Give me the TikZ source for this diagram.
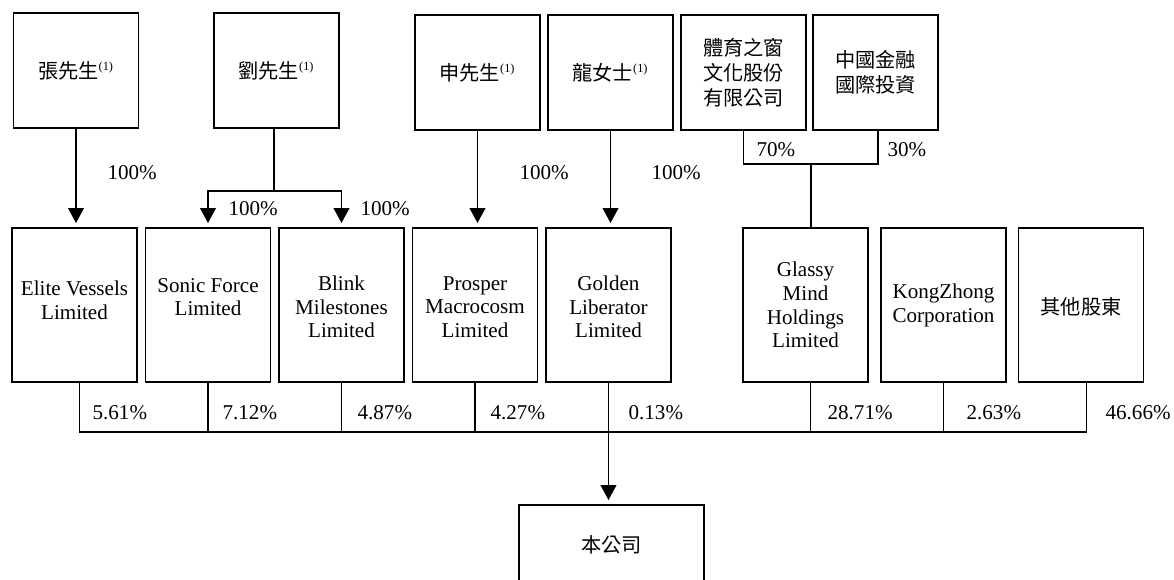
\documentclass[tikz,border=0pt]{standalone}
\usepackage{fontspec}
\setmainfont{Liberation Serif}
\newfontfamily\cjk{Noto Sans CJK TC}
\usetikzlibrary{arrows.meta}
\newcommand{\noteone}{\textsuperscript{\rmfamily\fontsize{7}{7}\selectfont(1)}}

\begin{document}
\begin{tikzpicture}[x=0.02cm, y=-0.02cm, line width=0.7pt,
    holder/.style={draw, minimum width=2.5cm, minimum height=2.3cm, inner sep=0pt,
        align=center, font=\cjk\fontsize{11.5}{14.2}\selectfont},
    vehicle/.style={draw, minimum width=2.5cm, minimum height=3.08cm, inner sep=0pt},
    coname/.style={align=center, inner sep=0pt, font=\fontsize{12}{13.5}\selectfont},
    pct/.style={anchor=west, inner sep=0pt, font=\fontsize{12}{14}\selectfont},
    own/.style={-{Triangle[width=9pt,length=8.5pt]}, shorten >=2.5pt}]
    \useasboundingbox (0,0) rectangle (1174,579);

    % Shareholders
    \node[holder] (zhang) at (76,70.5) {張先生\noteone};
    \node[holder] (liu) at (276.5,70.5) {劉先生\noteone};
    \node[holder] (shen) at (477.5,72.5) {申先生\noteone};
    \node[holder] (long) at (610.5,72.5) {龍女士\noteone};
    \node[holder] (sports) at (743.5,72.5) {體育之窗\\文化股份\\有限公司};
    \node[holder] (cfin) at (875.5,72.5) {中國金融\\國際投資};

    % Holding vehicles
    \node[vehicle] (elite) at (74.5,305) {};
    \node[vehicle] (sonic) at (208,305) {};
    \node[vehicle] (blink) at (341.5,305) {};
    \node[vehicle] (prosper) at (475,305) {};
    \node[vehicle] (golden) at (608.5,305) {};
    \node[vehicle] (glassy) at (805.5,305) {};
    \node[vehicle] (kz) at (943.5,305) {};
    \node[vehicle] (others) at (1081,305) {};

    \node[coname] (eliteT) at (74.5,300) {Elite Vessels\\Limited};
    \node[coname] (sonicT) at (208,297) {Sonic Force\\Limited};
    \node[coname] (blinkT) at (341.5,307) {Blink\\Milestones\\Limited};
    \node[coname] (prosperT) at (475,307) {Prosper\\Macrocosm\\Limited};
    \node[coname] (goldenT) at (608.5,307) {Golden\\Liberator\\Limited};
    \node[coname] (glassyT) at (805.5,305) {Glassy\\Mind\\Holdings\\Limited};
    \node[coname] (kzT) at (943.5,305.5) {KongZhong\\Corporation};
    \node[coname, font=\cjk\fontsize{11.5}{14.2}\selectfont] (othersT) at (1081,307) {其他股東};

    % Company
    \node[draw, minimum width=3.7cm, minimum height=1.6cm, inner sep=0pt,
        font=\cjk\fontsize{11.5}{14.2}\selectfont] (company) at (611.5,545) {本公司};

    % 100% holdings
    \draw[own] (zhang.south) -- (zhang.south |- elite.north);
    \coordinate (liuJ) at (274,191);
    \draw (liuJ |- liu.south) -- (liuJ);
    \draw[own] (liuJ) -| (sonic.north);
    \draw[own] (liuJ) -| (blink.north);
    \draw[own] (shen.south) -- (shen.south |- prosper.north);
    \draw[own] (long.south) -- (long.south |- golden.north);

    % Glassy Mind
    \coordinate (sumJ) at (811,164);
    \draw (sports.south) |- ([xshift=1.4pt]cfin.south |- sumJ) -- ([xshift=1.4pt]cfin.south);
    \draw (sumJ) -- (sumJ |- glassy.north);

    % Shareholdings in the company
    \coordinate (bus) at (608,432);
    \draw ([xshift=3pt]elite.south) |- ([xshift=3pt]others.south |- bus) -- ([xshift=3pt]others.south);
    \foreach \n in {sonic,blink,prosper,kz}
        \draw (\n.south) -- (\n.south |- bus);
    \draw ([xshift=3pt]glassy.south) -- ([xshift=3pt]glassy.south |- bus);
    \draw[own] (golden.south) -- (golden.south |- company.north);

    % Percentages
    \foreach \x/\y/\t [count=\i] in {107/173/100, 228/209/100, 360/209/100,
        519/173/100, 651/173/100, 756/150/70, 887/150/30,
        92/413/5.61, 222/413/7.12, 357/413/4.87, 490/413/4.27,
        628/413/0.13, 827/413/28.71, 966/413/2.63, 1105/413/46.66}
        \node[pct] (pct\i) at (\x,\y) {\t\%};
\end{tikzpicture}
\end{document}
